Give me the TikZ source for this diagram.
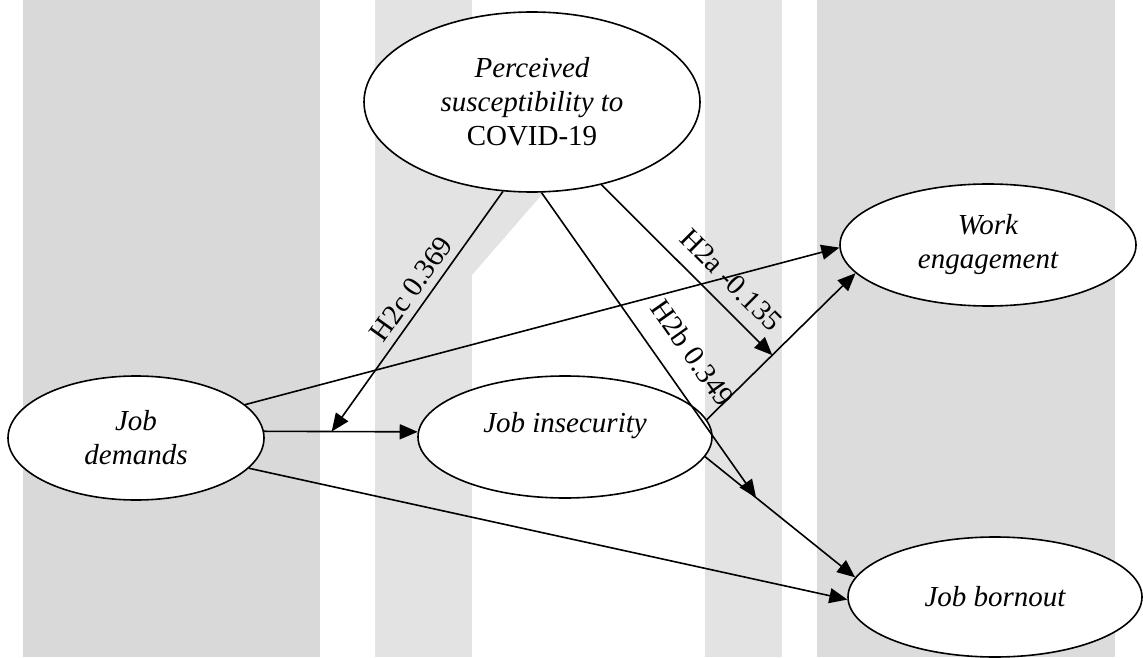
\documentclass[tikz,border=0pt]{standalone}
\usepackage{fontspec}
\setmainfont{Liberation Serif}
\usetikzlibrary{shapes.geometric,arrows.meta,calc}
\definecolor{band1}{HTML}{D9D9D9}
\definecolor{band2}{HTML}{E3E3E3}
\definecolor{band3}{HTML}{DCDCDC}

\begin{document}
\begin{tikzpicture}[x=1pt, y=1pt, line width=1.6pt,
    main/.style = {draw, ellipse, fill=white, inner sep=0pt, align=center, font=\fontsize{29}{34}\selectfont\itshape},
    path/.style = {-{Triangle[length=18pt, width=15pt]}},
    lbl/.style = {sloped, font=\fontsize{29}{34}\selectfont}]
    \useasboundingbox (0,0) rectangle (1143,657);
    % grey bands in the back
    \fill[band1] (23,0) rectangle (320,657);
    \fill[band2] (375,0) rectangle (472,657);
    \fill[band2] (472,382) -- (565,489) -- (472,489) -- cycle;
    \fill[band2] (705,0) rectangle (782,657);
    \fill[band3] (817,0) rectangle (1115,657);

    \node[main, minimum width=256pt, minimum height=124pt] (1) at (136,219) {Job\\demands};
    \node[main, minimum width=336pt, minimum height=180pt] (2) at (532,555) {Perceived\\susceptibility to\\\upshape COVID-19};
    \node[main, minimum width=294pt, minimum height=122pt, text height=20pt, text depth=30pt] (3) at (565,220) {Job insecurity};
    \node[main, minimum width=296pt, minimum height=122pt] (4) at (988,412) {Work\\engagement};
    \node[main, minimum width=294pt, minimum height=120pt] (5) at (995,60) {Job bornout};

    \coordinate (m1) at ($(1.3)!0.44!(3.178)$);
    \coordinate (m2) at ($(3.352)!0.34!(5.172)$);
    \coordinate (m3) at ($(3.7)!0.44!(4.192)$);

    \draw[path] (1.3) -- (3.178);
    \draw[path] (1.17) -- (4.181);
    \draw[path] (1.345) -- (5.181);
    \draw[path] (3.7) -- (4.192);
    \draw[path] (3.352) -- (5.172);
    \draw[path] (2.252) -- node[lbl, above=4pt, pos=0.45] {H2c 0.369} (m1);
    \draw[path] (2.276) -- node[lbl, above=17pt, pos=0.585] {H2b 0.349} (m2);
    \draw[path] (2.310) -- node[lbl, above=10pt, pos=0.66] {H2a -0.135} (m3);
\end{tikzpicture}
\end{document}
